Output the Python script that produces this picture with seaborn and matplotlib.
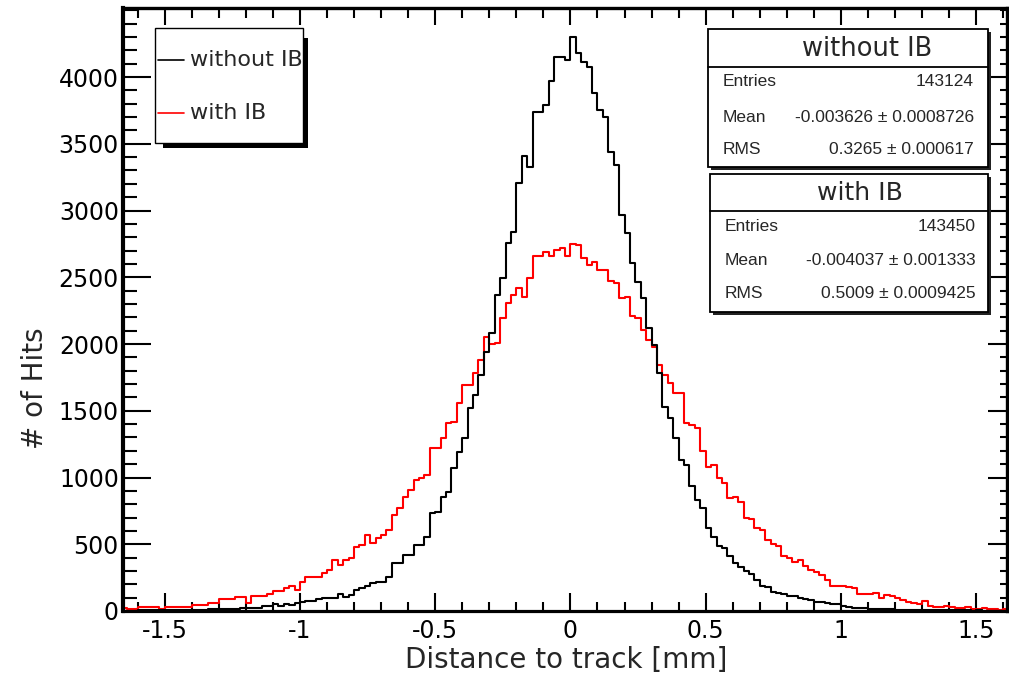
import numpy as np
import pandas as pd
import matplotlib
matplotlib.use("Agg")
import matplotlib.pyplot as plt
from matplotlib.patches import Rectangle
from matplotlib.lines import Line2D
from matplotlib.ticker import MultipleLocator, FixedLocator, FormatStrFormatter
import seaborn as sns

# histogram binning (0.02 mm bins)
BIN_LO = -1.66
BIN_WIDTH = 0.02
N_BINS = 164

# bin contents, left to right
without_ib = [
    2, 3, 3, 4, 4, 5, 5, 6, 6, 7,
    7, 9, 8, 9, 11, 10, 12, 12, 14, 18,
    15, 17, 20, 20, 22, 25, 37, 37, 52, 40,
    52, 45, 57, 70, 77, 77, 88, 100, 100, 100,
    125, 107, 120, 157, 170, 187, 207, 220, 220, 257,
    356, 356, 419, 419, 494, 494, 556, 732, 744, 856,
    894, 1069, 1193, 1293, 1518, 1618, 1768, 1943, 2080, 2367,
    2492, 2754, 2838, 3204, 3408, 3328, 3740, 3740, 3790, 3972,
    4147, 4147, 4127,
    4300, 4182, 4115, 4077, 3882, 3750, 3700, 3440, 3340, 2966,
    2829, 2604, 2467, 2342, 2117, 1990, 1780, 1530, 1443, 1296,
    1131, 1094, 935, 830, 775, 620, 556, 490, 470, 410,
    362, 330, 300, 280, 232, 190, 180, 140, 135, 128,
    115, 110, 100, 88, 82, 70, 68, 60, 55, 50,
    35, 30, 25, 22, 20, 18, 16, 14, 12, 12,
    10, 9, 9, 8, 7, 8, 6, 6, 5, 6,
    5, 4, 5, 4, 3, 4, 3, 3, 2, 3,
    2,
]

with_ib = [
    20, 15, 15, 32, 32, 32, 32, 15, 32, 32,
    32, 32, 32, 45, 45, 45, 62, 62, 87, 87,
    87, 107, 107, 60, 112, 112, 112, 127, 150, 150,
    170, 187, 157, 220, 257, 257, 257, 282, 307, 382,
    345, 380, 395, 482, 494, 569, 507, 544, 569, 607,
    719, 769, 856, 906, 981, 993, 1019, 1219, 1219, 1293,
    1406, 1418, 1556, 1693, 1693, 1780, 1880, 2054, 2000, 2010,
    2192, 2305, 2367, 2417, 2354, 2492, 2659, 2659, 2691, 2659,
    2704, 2716, 2659,
    2749, 2740, 2642, 2592, 2617, 2554, 2554, 2474, 2459, 2342,
    2354, 2210, 2192, 2105, 2030, 1980, 1843, 1768, 1705, 1635,
    1635, 1406, 1390, 1370, 1200, 1080, 1094, 994, 960, 846,
    856, 820, 700, 690, 625, 610, 530, 500, 490, 410,
    400, 370, 385, 335, 310, 290, 270, 235, 185, 185,
    185, 182, 170, 130, 130, 125, 135, 97, 120, 110,
    95, 85, 65, 57, 55, 75, 40, 32, 32, 40,
    30, 25, 20, 28, 14, 12, 26, 12, 14, 10,
    18,
]

labels = ["without IB", "with IB"]
colors = {"without IB": "#000000", "with IB": "#ff0000"}
y_major = [0, 500, 1000, 1500, 2000, 2500, 3000, 3500, 4000]

stats = {
    "without IB": ("143124", "-0.003626 \u00b1 0.0008726", "0.3265 \u00b1 0.000617"),
    "with IB": ("143450", "-0.004037 \u00b1 0.001333", "0.5009 \u00b1 0.0009425"),
}

edges = [round(BIN_LO + BIN_WIDTH * i, 4) for i in range(N_BINS + 1)]
centers = [0.5 * (edges[i] + edges[i + 1]) for i in range(N_BINS)]

df = pd.DataFrame({
    "x": centers + centers,
    "n": np.array(without_ib + with_ib, dtype=float),
    "sample": [labels[0]] * N_BINS + [labels[1]] * N_BINS,
})

sns.set_style("white")
plt.rcParams["font.family"] = ["DejaVu Sans"]
plt.rcParams["axes.unicode_minus"] = False

W, H = 1009, 678
fig = plt.figure(figsize=(W / 100, H / 100), dpi=100)
fig.patch.set_facecolor("white")


def fx(px):
    return px / W


def fy(py):
    return 1 - py / H


ax = fig.add_axes([fx(123), fy(611), (1006.5 - 123) / W, (611 - 8) / H])

sns.histplot(
    data=df, x="x", weights="n", hue="sample", hue_order=labels,
    palette=colors, bins=edges, element="step", fill=False,
    linewidth=1.5, legend=False, ax=ax,
)

ax.set_xlim(-1.654, 1.612)
ax.set_ylim(0, 4517)
ax.set_xlabel("")
ax.set_ylabel("")

ax.xaxis.set_major_locator(MultipleLocator(0.5))
ax.xaxis.set_minor_locator(MultipleLocator(0.1))
ax.xaxis.set_major_formatter(FormatStrFormatter("%g"))
ax.yaxis.set_major_locator(FixedLocator(y_major))
ax.yaxis.set_minor_locator(MultipleLocator(100))

ax.tick_params(axis="both", which="both", direction="in", colors="black",
               labelsize=17, width=1.5, left=True, bottom=True,
               right=False, top=False)
ax.tick_params(axis="y", which="major", length=20, pad=3)
ax.tick_params(axis="y", which="minor", length=10)
ax.tick_params(axis="x", which="major", length=13, pad=6)
ax.tick_params(axis="x", which="minor", length=6.5)

for s in ax.spines.values():
    s.set_linewidth(2.3)
    s.set_color("black")
ax.spines["left"].set_linewidth(3)

# ticks on top and right, shorter
top = ax.secondary_xaxis("top")
top.xaxis.set_major_locator(MultipleLocator(0.5))
top.xaxis.set_minor_locator(MultipleLocator(0.1))
top.tick_params(axis="x", which="both", direction="in", top=True,
                labeltop=False, width=1.5, colors="black")
top.tick_params(axis="x", which="major", length=12)
top.tick_params(axis="x", which="minor", length=7)
top.spines["top"].set_linewidth(2.3)

right = ax.secondary_yaxis("right")
right.yaxis.set_major_locator(FixedLocator(y_major))
right.yaxis.set_minor_locator(MultipleLocator(100))
right.tick_params(axis="y", which="both", direction="in", right=True,
                  labelright=False, width=1.5, colors="black")
right.tick_params(axis="y", which="major", length=14)
right.tick_params(axis="y", which="minor", length=5)
right.spines["right"].set_linewidth(2.3)

# axis titles
fig.text(fx(566), fy(660), "Distance to track [mm]", fontsize=20,
         ha="center", va="center")
fig.text(fx(35), fy(388), "# of Hits", fontsize=20, rotation=90,
         ha="center", va="center")

# legend box with ROOT-style shadow
fig.patches.append(Rectangle((fx(163), fy(148)), fx(308) - fx(163), fy(38) - fy(148),
                             transform=fig.transFigure, facecolor="black",
                             edgecolor="none", zorder=5))
fig.patches.append(Rectangle((fx(155), fy(142.7)), fx(302.7) - fx(155), fy(28.3) - fy(142.7),
                             transform=fig.transFigure, facecolor="white",
                             edgecolor="black", linewidth=1.0, zorder=6))
for name, ly in zip(labels, [60, 113]):
    fig.lines.append(Line2D([fx(158), fx(184)], [fy(ly), fy(ly)], color=colors[name],
                            linewidth=1.2, transform=fig.transFigure, zorder=7))
    fig.text(fx(190), fy(ly), name, fontsize=16, ha="left", va="center", zorder=8)

# stats boxes
boxes = [
    ("without IB", 708, 988, 29.3, 166.7, 66.7, 867.5, (81.7, 117, 150), 722.7, 974, 18.5),
    ("with IB", 710, 988, 174, 311.7, 210.7, 860, (226.7, 260, 294), 725, 976, 18),
]
for name, x0, x1, y0, y1, ysep, xt, rows, xl, xr, tsize in boxes:
    fig.patches.append(Rectangle((fx(x0 + 3), fy(y1 + 3)), fx(x1) - fx(x0), fy(y0) - fy(y1),
                                 transform=fig.transFigure, facecolor="#222222",
                                 edgecolor="none", zorder=5))
    fig.patches.append(Rectangle((fx(x0), fy(y1)), fx(x1) - fx(x0), fy(y0) - fy(y1),
                                 transform=fig.transFigure, facecolor="white",
                                 edgecolor="black", linewidth=1.3, zorder=6))
    fig.lines.append(Line2D([fx(x0), fx(x1)], [fy(ysep), fy(ysep)], color="black",
                            linewidth=1.3, transform=fig.transFigure, zorder=7))
    fig.text(fx(xt), fy((y0 + ysep) / 2 + 1), name, fontsize=tsize,
             ha="center", va="center", zorder=8)
    for key, val, ry in zip(["Entries", "Mean", "RMS"], stats[name], rows):
        fig.text(fx(xl), fy(ry), key, fontsize=12.5, family=["Liberation Sans"],
                 ha="left", va="center", zorder=8)
        fig.text(fx(xr), fy(ry), val, fontsize=12.5, family=["Liberation Sans"],
                 ha="right", va="center", zorder=8)

fig.savefig("out.png", dpi=100, facecolor="white")
